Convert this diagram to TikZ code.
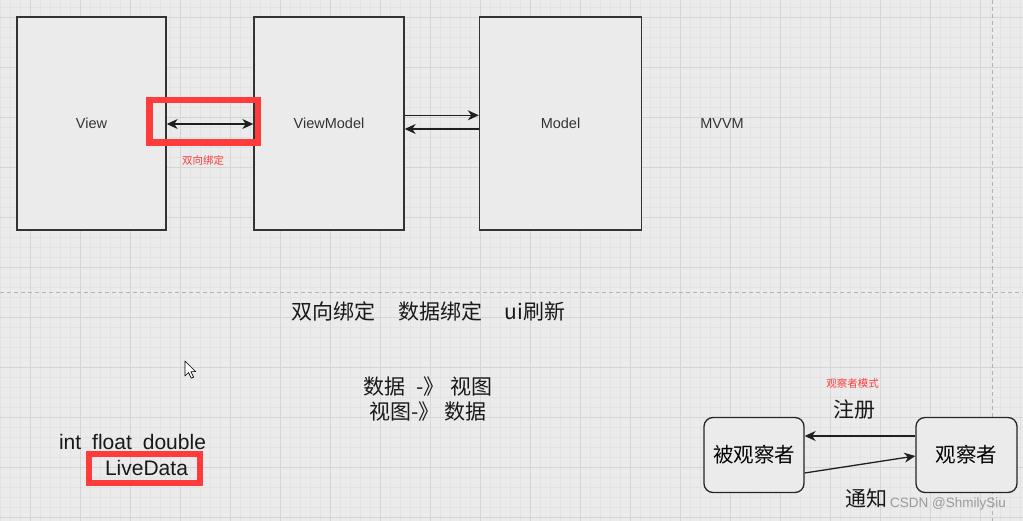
\documentclass[tikz,border=0pt]{standalone}
\usepackage{fontspec}
\setmainfont{Liberation Sans}
\newfontfamily\cjk{Noto Sans CJK SC}
\usetikzlibrary{arrows.meta}
\definecolor{bg}{HTML}{EBEBEB}
\definecolor{minorgrid}{HTML}{E3E3E3}
\definecolor{majorgrid}{HTML}{D5D5D5}
\definecolor{ink}{HTML}{333333}
\definecolor{hired}{HTML}{FF3B3B}
\definecolor{mark}{HTML}{9A9A9A}
\begin{document}
\begin{tikzpicture}[x=1pt,y=-1pt,
  bigbox/.style={draw=ink,line width=1.4pt,fill=bg,inner sep=0pt,minimum height=213pt,font=\fontsize{14.5}{16}\selectfont,text=ink},
  roundbox/.style={draw=black!85,line width=1.3pt,fill=bg,rounded corners=9pt,inner sep=0pt,minimum width=100pt,minimum height=75pt,font=\cjk\fontsize{20.5}{22}\selectfont},
  conn/.style={draw=black!88,line width=1.3pt,-{Stealth[length=11pt,width=10pt,inset=3.5pt]}},
  dconn/.style={draw=black!88,line width=1.3pt,{Stealth[length=11pt,width=10pt,inset=3.5pt]}-{Stealth[length=11pt,width=10pt,inset=3.5pt]}},
  redbox/.style={draw=hired,line width=6.5pt,inner sep=0pt},
  redlabel/.style={text=hired,font=\cjk\fontsize{10.5}{12}\selectfont,inner sep=0pt},
  bigtext/.style={font=\cjk\fontsize{21}{24}\selectfont,inner sep=0pt,text=black!90},
  latintext/.style={font=\fontsize{21}{24}\selectfont,inner sep=0pt,text=black!90},
  plain/.style={font=\fontsize{14.5}{16}\selectfont,text=ink,inner sep=0pt},
  sep/.style={draw=black!30,line width=0.8pt,dash pattern=on 4pt off 3pt}
]
\useasboundingbox (0,0) rectangle (1023,521);
\fill[bg] (0,0) rectangle (1023,521);
% grid
\foreach \x in {0,10,...,1020} \draw[minorgrid,line width=0.6pt] (\x,0) -- (\x,521);
\foreach \y in {7,17,...,517} \draw[minorgrid,line width=0.6pt] (0,\y) -- (1023,\y);
\foreach \x in {30,80,...,1000} \draw[majorgrid,line width=0.9pt] (\x,0) -- (\x,521);
\foreach \y in {17,67,...,517} \draw[majorgrid,line width=0.9pt] (0,\y) -- (1023,\y);
% separators
\draw[sep] (0,292) -- (1023,292);
\draw[sep] (992,0) -- (992,521);

% MVVM boxes
\node[bigbox,minimum width=149pt] (view) at (91.5,123.5) {View};
\node[bigbox,minimum width=150pt] (vm) at (329,123.5) {ViewModel};
\node[bigbox,minimum width=162pt] (model) at (560.5,123.5) {Model};
\node[plain] (mvvm) at (722,124) {MVVM};

\coordinate (ya) at (0,124);
\coordinate (yb) at (0,115.3);
\coordinate (yc) at (0,129);
\draw[dconn] (view.east |- ya) -- (vm.west |- ya);
\draw[conn] (vm.east |- yb) -- (model.west |- yb);
\draw[conn] (model.west |- yc) -- (vm.east |- yc);

\node[redbox,minimum width=108.5pt,minimum height=42.5pt] (hl1) at (203.5,121.5) {};
\node[redlabel] (bindlbl) at (203,160) {双向绑定};

% middle texts
\node[bigtext] (kinds) at (428.5,311) {双向绑定\hspace{23pt}数据绑定\hspace{22pt}ui刷新};
\node[bigtext] (d2v) at (428,386.5) {数据\hspace{11pt}-》\hspace{6pt}视图};
\node[bigtext] (v2d) at (428,411.5) {视图-》\hspace{5pt}数据};

% left texts
\node[latintext] (types) at (132.5,442) {int\hspace{11pt}float\hspace{11pt}double};
\node[latintext] (live) at (146.5,467.5) {LiveData};
\node[redbox,line width=6pt,minimum width=111pt,minimum height=29pt] (hl2) at (144.5,468.2) {};

% cursor
\draw[black,fill=white,line width=0.7pt,line join=round] (185,361) -- (185,376) -- (188.5,372.5) -- (191.3,378.2) -- (193.6,377.1) -- (190.9,371.6) -- (195.6,371.6) -- cycle;

% observer pattern
\node[redlabel] (obslbl) at (852.5,383) {观察者模式};
\node[roundbox] (subject) at (754,455) {被观察者};
\node[roundbox,minimum width=101pt] (observer) at (966.5,455) {观察者};
\coordinate (r1) at (0,436);
\coordinate (n1) at (0,473);
\coordinate (n2) at (0,456);
\draw[conn] (observer.west |- r1) -- (subject.east |- r1);
\draw[conn] (subject.east |- n1) -- (observer.west |- n2);
\node[bigtext] (reg) at (854,410) {注册};
\node[bigtext] (notify) at (866,498) {通知};
\node[font=\fontsize{13.5}{15}\selectfont,text=mark,inner sep=0pt] (wm) at (948,504) {CSDN @ShmilySiu};
\end{tikzpicture}
\end{document}
